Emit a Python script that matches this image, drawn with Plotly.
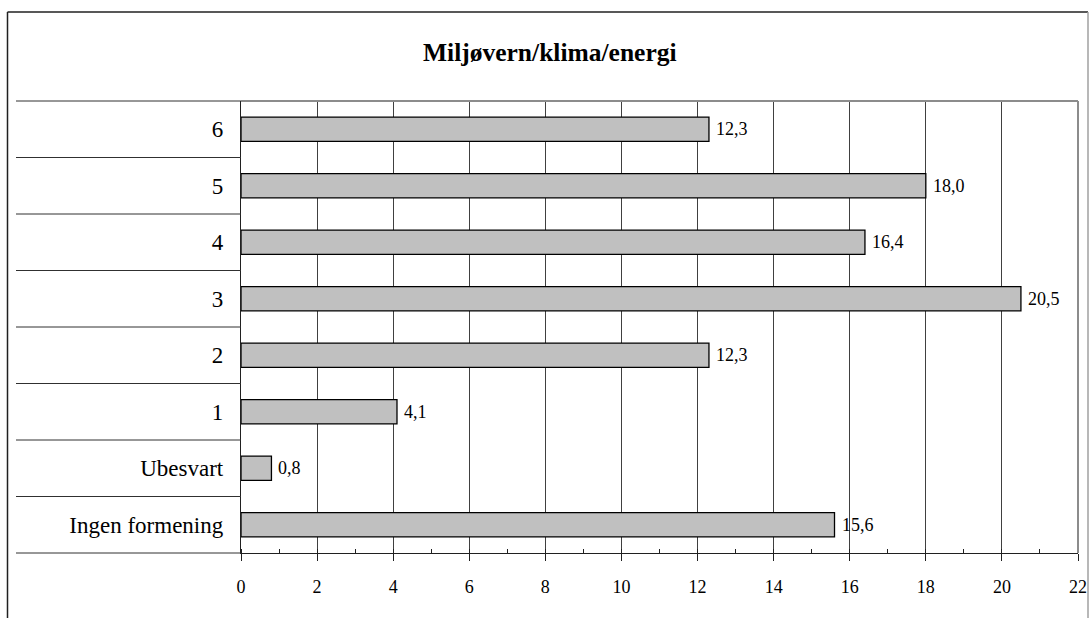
import plotly.graph_objects as go

# Survey answers, bottom row first
categories = ["Ingen formening", "Ubesvart", "1", "2", "3", "4", "5", "6"]
values = [15.6, 0.8, 4.1, 12.3, 20.5, 16.4, 18.0, 12.3]
x_ticks = list(range(0, 23, 2))
title_text = "Miljøvern/klima/energi"

W, H = 1090, 618
L, R, T, B = 241, 12, 101, 65
plot_w = W - L - R
plot_h = H - T - B


def px_to_paper_x(px):
    return (px - L) / plot_w


def px_to_paper_y(py):
    return (H - B - py) / plot_h


serif = "Liberation Serif, Times New Roman, serif"

fig = go.Figure()
fig.add_trace(go.Bar(
    y=categories,
    x=values,
    orientation="h",
    marker=dict(color="#c0c0c0", line=dict(color="#000000", width=1.3)),
    hoverinfo="skip",
))

# value labels just right of each bar end (y given as category index)
annotations = []
for idx, v in enumerate(values):
    annotations.append(dict(
        x=v, y=idx, xref="x", yref="y",
        text=f"{v:.1f}".replace(".", ","),
        xanchor="left", yanchor="middle", xshift=5,
        showarrow=False,
        font=dict(family=serif, size=18, color="#000000"),
    ))
annotations.append(dict(
    text=f"<b>{title_text}</b>", xref="paper", yref="paper",
    x=px_to_paper_x(550), y=px_to_paper_y(52),
    xanchor="center", yanchor="middle", showarrow=False,
    font=dict(family=serif, size=25.5, color="#000000"),
))

shapes = []
# horizontal separators between categories, extending left of the plot
n = len(categories)
for i in range(n + 1):
    yy = i / n
    shapes.append(dict(type="line", xref="paper", yref="paper",
                       x0=px_to_paper_x(16), x1=0, y0=yy, y1=yy,
                       line=dict(color="#303030", width=1)))
# plot area top and right borders (grey)
shapes.append(dict(type="line", xref="paper", yref="paper",
                   x0=0, x1=1, y0=1, y1=1,
                   line=dict(color="#8c8c8c", width=2)))
shapes.append(dict(type="line", xref="paper", yref="paper",
                   x0=1, x1=1, y0=0, y1=1,
                   line=dict(color="#8c8c8c", width=2)))
# outer frame
shapes.append(dict(type="line", xref="paper", yref="paper",
                   x0=px_to_paper_x(7.5), x1=px_to_paper_x(1088), y0=px_to_paper_y(12), y1=px_to_paper_y(12),
                   line=dict(color="#202020", width=1.5)))
shapes.append(dict(type="line", xref="paper", yref="paper",
                   x0=px_to_paper_x(7.5), x1=px_to_paper_x(7.5), y0=px_to_paper_y(12), y1=px_to_paper_y(630),
                   line=dict(color="#202020", width=1.5)))
shapes.append(dict(type="line", xref="paper", yref="paper",
                   x0=px_to_paper_x(1088), x1=px_to_paper_x(1088), y0=px_to_paper_y(12), y1=px_to_paper_y(630),
                   line=dict(color="#a0a0a0", width=1.5)))

fig.update_layout(
    width=W, height=H, autosize=False,
    margin=dict(l=L, r=R, t=T, b=B, pad=0, autoexpand=False),
    paper_bgcolor="white",
    plot_bgcolor="white",
    showlegend=False,
    bargap=0.57,
    shapes=shapes,
    annotations=annotations,
    xaxis=dict(
        range=[0, 22],
        tickvals=x_ticks,
        ticktext=[str(t) for t in x_ticks],
        showgrid=True, gridcolor="#404040", gridwidth=1,
        zeroline=False, automargin=False,
        showline=True, linecolor="#202020", linewidth=1.3,
        ticks="outside", ticklen=7, tickcolor="#202020", tickwidth=1.3,
        minor=dict(dtick=1, ticks="inside", ticklen=4, tickcolor="#202020",
                   tickwidth=1, showgrid=False),
        ticklabelstandoff=10,
        tickfont=dict(family=serif, size=18, color="#000000"),
        fixedrange=True,
    ),
    yaxis=dict(
        categoryorder="array", categoryarray=categories,
        range=[-0.5, n - 0.5],
        showgrid=False, zeroline=False, automargin=False,
        showline=True, linecolor="#202020", linewidth=1.3,
        ticks="", ticklabelstandoff=12,
        tickfont=dict(family=serif, size=23, color="#000000"),
        fixedrange=True,
    ),
)

fig.write_html("out.html", config={"responsive": False})
